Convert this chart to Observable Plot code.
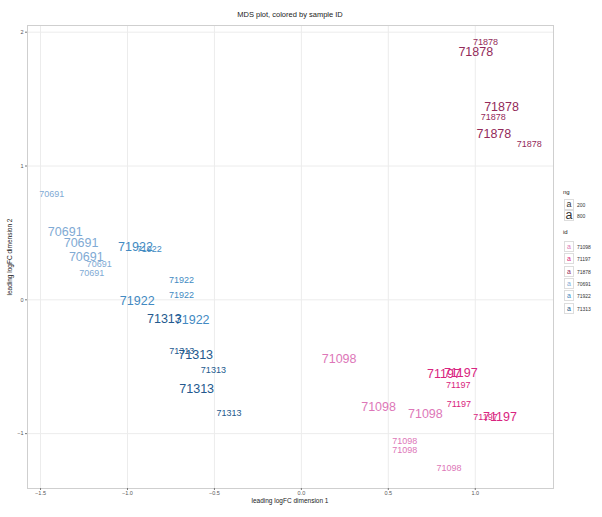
<!DOCTYPE html>
<html>
<head>
<meta charset="utf-8">
<script src="https://cdn.jsdelivr.net/npm/d3@7"></script>
<script src="https://cdn.jsdelivr.net/npm/@observablehq/plot@0.6"></script>
<style>
  html, body { margin: 0; padding: 0; background: #fff; }
  #wrap { position: relative; width: 602px; height: 517px; font-family: "Liberation Sans", Arial, sans-serif; }
  .abs { position: absolute; white-space: nowrap; }
  .key { position: absolute; width: 10px; height: 10px; border: 1px solid #ddd; background: #fff; box-sizing: border-box;
         display: flex; align-items: center; justify-content: center; }
</style>
</head>
<body>
<div id="wrap"></div>
<script>
// ---- data ----
const idLevels = ["71098", "71197", "71878", "70691", "71922", "71313"];
const idColors = ["#dd77b8", "#d92480", "#932a5a", "#80aad4", "#428ac2", "#24598e"];
const ngLevels = [200, 800];
const ngSizes = [9, 12.5];

const pointIds = [
  "71878","71878","71878","71878","71878","71878",
  "70691","70691","70691","70691","70691","70691",
  "71922","71922","71922","71922","71922","71922",
  "71313","71313","71313","71313","71313","71313",
  "71098","71098","71098","71098","71098","71098",
  "71197","71197","71197","71197","71197","71197"
];
const pointNg = [
  200,800,800,200,800,200,
  200,800,800,800,200,200,
  800,200,200,200,800,800,
  800,200,800,200,800,200,
  800,800,800,200,200,200,
  800,800,200,200,200,800
];
const dim1 = [
  1.059,1.003,1.151,1.103,1.107,1.310,
  -1.435,-1.358,-1.267,-1.237,-1.163,-1.205,
  -0.954,-0.875,-0.689,-0.689,-0.944,-0.628,
  -0.788,-0.688,-0.608,-0.506,-0.602,-0.416,
  0.217,0.444,0.713,0.595,0.595,0.849,
  0.820,0.917,0.902,0.906,1.059,1.142
];
const dim2 = [
  1.925,1.850,1.444,1.364,1.239,1.160,
  0.790,0.510,0.421,0.322,0.267,0.202,
  0.396,0.381,0.148,0.035,-0.007,-0.150,
  -0.144,-0.386,-0.411,-0.524,-0.663,-0.843,
  -0.443,-0.798,-0.855,-1.055,-1.122,-1.254,
  -0.556,-0.548,-0.636,-0.780,-0.874,-0.877
];
const xTicks = [-1.5, -1.0, -0.5, 0.0, 0.5, 1.0];
const yTicks = [-1, 0, 1, 2];

const title = "MDS plot, colored by sample ID";
const xLabel = "leading logFC dimension 1";
const yLabel = "leading logFC dimension 2";

// ---- build ----
const rows = pointIds.map((id, i) => ({id, ng: pointNg[i], x: dim1[i], y: dim2[i]}));
const colorOf = id => idColors[idLevels.indexOf(id)];
const font = "Liberation Sans, Arial, sans-serif";

const W = 602, H = 517;
const mL = 27, mR = 49, mT = 25, mB = 29;

const textMarks = ngLevels.map((ng, k) =>
  Plot.text(rows.filter(r => r.ng === ng), {
    x: "x", y: "y", text: "id",
    fill: d => colorOf(d.id),
    fontSize: ngSizes[k],
    fontFamily: font
  })
);

const plot = Plot.plot({
  width: W, height: H,
  marginLeft: mL, marginRight: mR, marginTop: mT, marginBottom: mB,
  style: {fontFamily: font, background: "#fff"},
  x: {domain: [-1.575, 1.45], label: null},
  y: {domain: [-1.41, 2.05], label: null},
  marks: [
    Plot.gridX(xTicks, {stroke: "#ececec", strokeOpacity: 1}),
    Plot.gridY(yTicks, {stroke: "#ececec", strokeOpacity: 1}),
    Plot.frame({stroke: "#cfcfcf"}),
    Plot.axisX(xTicks, {tickFormat: d3.format(".1f"), tickSize: 2, tickPadding: 1, fontSize: 5.5, fill: "#555", stroke: "#777", label: null}),
    Plot.axisY(yTicks, {tickFormat: d3.format("d"), tickSize: 2, tickPadding: 2, fontSize: 5.5, fill: "#555", stroke: "#777", label: null}),
    ...textMarks
  ]
});

const wrap = document.getElementById("wrap");
wrap.appendChild(plot);
plot.style.position = "absolute";
plot.style.left = "0px";
plot.style.top = "0px";

function addDiv(txt, css) {
  const d = document.createElement("div");
  d.className = "abs";
  d.textContent = txt;
  Object.assign(d.style, css);
  wrap.appendChild(d);
  return d;
}

// title
addDiv(title, {left: mL + "px", width: (W - mL - mR) + "px", textAlign: "center", top: "10px", fontSize: "7.5px", color: "#222"});
// x label
addDiv(xLabel, {left: mL + "px", width: (W - mL - mR) + "px", textAlign: "center", top: "497px", fontSize: "6.5px", color: "#222"});
// y label
addDiv(yLabel, {left: "9px", top: ((mT + H - mB) / 2) + "px", fontSize: "6.5px", color: "#222",
  transform: "translate(-50%, -50%) rotate(-90deg)"});

// legend: ng
const lgX = 563;
addDiv("ng", {left: lgX + "px", top: "189px", fontSize: "6px", color: "#222"});
ngLevels.forEach((ng, k) => {
  const top = 199 + k * 11;
  const key = document.createElement("div");
  key.className = "key";
  Object.assign(key.style, {left: (lgX + 1) + "px", top: top + "px", width: "10px", height: "11px"});
  const a = document.createElement("span");
  a.textContent = "a";
  Object.assign(a.style, {fontSize: ngSizes[k] + "px", color: "#333", lineHeight: "1"});
  key.appendChild(a);
  wrap.appendChild(key);
  addDiv(String(ng), {left: (lgX + 14) + "px", top: (top + 2.5) + "px", fontSize: "5px", color: "#333"});
});
// legend: id
addDiv("id", {left: lgX + "px", top: "229px", fontSize: "6px", color: "#222"});
idLevels.forEach((id, k) => {
  const top = 241 + k * 12.3;
  const key = document.createElement("div");
  key.className = "key";
  Object.assign(key.style, {left: (lgX + 1) + "px", top: top + "px", width: "10px", height: "11px"});
  const a = document.createElement("span");
  a.textContent = "a";
  Object.assign(a.style, {fontSize: "7px", color: idColors[k], lineHeight: "1"});
  key.appendChild(a);
  wrap.appendChild(key);
  addDiv(id, {left: (lgX + 14) + "px", top: (top + 3) + "px", fontSize: "5px", color: "#333"});
});
</script>
</body>
</html>
